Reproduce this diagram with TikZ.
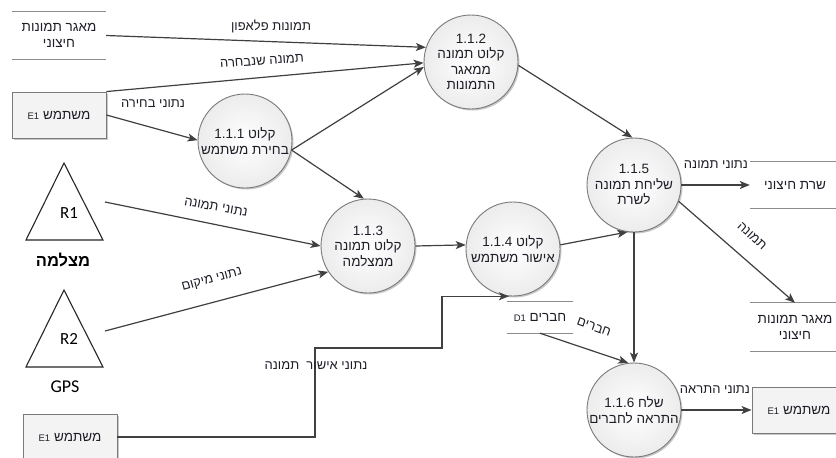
\documentclass[tikz,border=0pt]{standalone}
\usepackage{fontspec}
\setmainfont{Liberation Sans}
\newfontfamily\heb[Script=Hebrew]{Liberation Sans}
\newfontfamily\calfont{Carlito}
\TeXXeTstate=1
\usetikzlibrary{arrows.meta,shadows}
\newcommand\hb[1]{{\heb\beginR #1\endR}}
\newcommand\ltr[1]{\beginL #1\endL}
\newcommand\smid[1]{{\fontsize{9.5}{9.5}\selectfont #1}}
\definecolor{lc}{HTML}{404040}
\definecolor{cb}{HTML}{7A7A7A}
\definecolor{sl}{HTML}{8C8C8C}
\definecolor{tx}{HTML}{1E1E28}
\begin{document}
\begin{tikzpicture}[x=1pt,y=-1pt,
  txt/.style={font=\heb\fontsize{13}{15}\selectfont, text=tx, inner sep=0pt, align=center},
  proc/.style={circle, minimum size=94pt, inner sep=0pt, draw=cb, line width=0.9pt,
     inner color=white, outer color={rgb,255:red,236;green,236;blue,236},
     drop shadow={shadow xshift=1.5pt, shadow yshift=-1.5pt, opacity=0.22, fill=black},
     align=center, font=\heb\fontsize{13.5}{15.5}\selectfont, text=tx},
  entity/.style={rectangle, draw=cb, line width=0.9pt, fill={rgb,255:red,243;green,243;blue,243},
     drop shadow={shadow xshift=1.5pt, shadow yshift=-1.5pt, opacity=0.22, fill=black},
     minimum width=94pt, minimum height=46pt, inner sep=0pt, align=center,
     font=\heb\fontsize{13.5}{15}\selectfont, text=tx},
  store/.style={rectangle, inner sep=0pt, align=center, font=\heb\fontsize{13.5}{16}\selectfont, text=tx},
  sline/.style={draw=sl, line width=1.3pt},
  arr/.style={draw=lc, line width=1.2pt, -{Stealth[length=10pt,width=8pt,inset=2.5pt]}},
  tri/.style={draw=black!85, line width=1.1pt, line join=miter}
]
\clip (0,0) rectangle (836,458);
\fill[white] (0,0) rectangle (836,458);

% ---------- stores ----------
\node[store, minimum width=94pt, minimum height=47pt] (sTL) at (59,35.5) {\hb{מאגר תמונות}\\\hb{חיצוני}};
\draw[sline] (sTL.north west) -- (sTL.north east) (sTL.south west) -- (sTL.south east);
\node[store, minimum width=90pt, minimum height=46pt] (sSrv) at (795,185) {\hb{שרת חיצוני}};
\draw[sline] (sSrv.north west) -- (sSrv.north east) (sSrv.south west) -- (sSrv.south east);
\node[store, minimum width=90pt, minimum height=48pt] (sR) at (795,327) {\hb{מאגר תמונות}\\\hb{חיצוני}};
\draw[sline] (sR.north west) -- (sR.north east) (sR.south west) -- (sR.south east);
\node[store, minimum width=66pt, minimum height=31pt] (sD) at (540,317.5) {\hb{חברים \ltr{\smid{D1}}}};
\draw[sline] (sD.north west) -- (sD.north east) (sD.south west) -- (sD.south east);

% ---------- entities ----------
\node[entity] (eTL) at (59,115) {\hb{משתמש \ltr{\smid{E1}}}};
\node[entity] (eBL) at (70,437) {\hb{משתמש \ltr{\smid{E1}}}};
\node[entity] (eR) at (799,410) {\hb{משתמש \ltr{\smid{E1}}}};

% ---------- triangles ----------
\draw[tri] (64,163) -- (103,240) -- (26,240) -- cycle;
\draw[tri] (64,290) -- (103,367) -- (26,367) -- cycle;
\node[font=\calfont\fontsize{17}{17}\selectfont, inner sep=0pt] (r1) at (69,213) {R1};
\node[font=\calfont\fontsize{17}{17}\selectfont, inner sep=0pt] (r2) at (69,339) {R2};
\node[font=\heb\bfseries\fontsize{16.5}{16.5}\selectfont, inner sep=0pt] (cam) at (63,260) {\hb{מצלמה}};
\node[font=\calfont\fontsize{18}{18}\selectfont, inner sep=0pt] (gps) at (65,387) {GPS};
\coordinate (r1o) at (105,202);
\coordinate (r2o) at (105,331);

% ---------- processes ----------
\node[proc] (c1) at (245,141) {\hb{קלוט \ltr{1.1.1}}\\\hb{בחירת משתמש}};
\node[proc] (c2) at (471,62) {\ltr{1.1.2}\\\hb{קלוט תמונה}\\\hb{ממאגר}\\\hb{התמונות}};
\node[proc] (c3) at (368,246) {\ltr{1.1.3}\\\hb{קלוט תמונה}\\\hb{ממצלמה}};
\node[proc] (c4) at (513,249) {\hb{קלוט \ltr{1.1.4}}\\\hb{אישור משתמש}};
\node[proc] (c5) at (634,185) {\ltr{1.1.5}\\\hb{שליחת תמונה}\\\hb{לשרת}};
\node[proc] (c6) at (634,410) {\hb{שלח \ltr{1.1.6}}\\\hb{התראה לחברים}};

% ---------- connectors ----------
\draw[arr] (sTL.east) -- (c2.162);
\draw[arr] (eTL.north east) -- (c2.181);
\draw[arr] (eTL.east) -- (c1.179);
\draw[arr] (c1.-11) -- (c2.186);
\draw[arr] (c1.-11) -- (c3.95);
\draw[arr] (r1o) -- (c3.180);
\draw[arr] (r2o) -- (c3.213);
\draw[arr] (c3.east) -- (c4.175);
\coordinate (k1) at (315,348);
\coordinate (k2) at (442,348);
\draw[arr] (eBL.east) -| (k1) -- (k2) |- (c4.265);
\draw[arr] (c4.5) -- (c5.262);
\draw[arr] (c2.-4) -- (c5.92);
\draw[arr] (c5.east) -- (sSrv.west);
\draw[arr] (c5.-20) -- (sR.north);
\draw[arr] (c5.270) -- (c6.90);
\draw[arr] (sD.south) -- (c6.97);
\draw[arr] (c6.east) -- (eR.west);

% ---------- labels ----------
\node[txt] (l1) at (271,26) {\hb{תמונות פלאפון}};
\node[txt, rotate=4] (l2) at (262,61) {\hb{תמונה שנבחרה}};
\node[txt] (l3) at (153,104) {\hb{נתוני בחירה}};
\node[txt, rotate=-10] (l4) at (216,207) {\hb{נתוני תמונה}};
\node[txt, rotate=15] (l5) at (212,280) {\hb{נתוני מיקום}};
\node[txt] (l6) at (316,366) {\hb{נתוני אישור\ \ תמונה}};
\node[txt] (l7) at (716,165) {\hb{נתוני תמונה}};
\node[txt, rotate=-42] (l8) at (752,236) {\hb{תמונה}};
\node[txt, rotate=-20] (l9) at (594,327) {\hb{חברים}};
\node[txt] (l10) at (715,390) {\hb{נתוני התראה}};
\end{tikzpicture}
\end{document}
